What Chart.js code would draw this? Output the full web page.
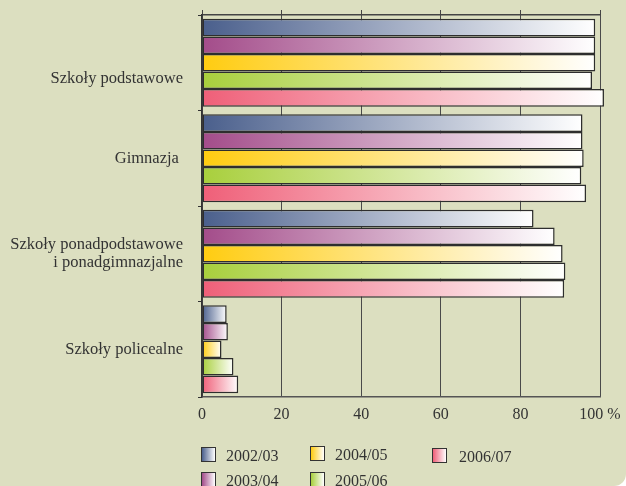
<!DOCTYPE html>
<html><head><meta charset="utf-8">
<script src="https://cdn.jsdelivr.net/npm/chart.js@4.4.1/dist/chart.umd.min.js"></script>
<style>
html,body{margin:0;padding:0;background:#fff;}
#wrap{position:relative;width:626px;height:486px;background:#dcdfc0;border-bottom-right-radius:12px;overflow:hidden;}
canvas{position:absolute;left:0;top:0;}
.lg{position:absolute;font-family:'Liberation Serif',serif;font-size:16px;color:#333;white-space:nowrap;line-height:16px;}
.sw{position:absolute;width:13px;height:13px;border:1px solid #333;}
</style></head>
<body><div id="wrap"><canvas id="c" width="626" height="486"></canvas><div id="legend"></div></div>
<script>
const categories = ['Szkoły podstawowe', 'Gimnazja ', ['Szkoły ponadpodstawowe', 'i ponadgimnazjalne'], 'Szkoły policealne'];
const seriesNames = ['2002/03', '2003/04', '2004/05', '2005/06', '2006/07'];
const s200203 = [98.8, 95.6, 83.3, 6.2];
const s200304 = [98.8, 95.6, 88.6, 6.5];
const s200405 = [98.8, 95.9, 90.6, 4.9];
const s200506 = [98.0, 95.3, 91.3, 7.9];
const s200607 = [101.0, 96.5, 91.0, 9.1];
const seriesColors = ['#4a5f8c', '#a34c8a', '#ffcc10', '#a8cf3c', '#ef5f78'];
const xTickLabels = ['0', '20', '40', '60', '80', '100 %'];

const seriesValues = [s200203, s200304, s200405, s200506, s200607];
const FONT = 'Liberation Serif';

function gradFill(color) {
  return (ctx) => {
    const chart = ctx.chart;
    if (!chart.chartArea || ctx.type !== 'data' || !ctx.parsed) return color;
    const xs = chart.scales.x;
    const x0 = xs.getPixelForValue(0);
    const x1 = xs.getPixelForValue(ctx.parsed.x);
    const g = chart.ctx.createLinearGradient(x0, 0, Math.max(x1, x0 + 1), 0);
    g.addColorStop(0, color);
    g.addColorStop(1, '#ffffff');
    return g;
  };
}

const datasets = seriesNames.map((name, i) => ({
  label: name,
  data: seriesValues[i],
  backgroundColor: gradFill(seriesColors[i]),
  borderColor: '#2e2e2e',
  borderWidth: 1.5,
  borderSkipped: false,
  categoryPercentage: 0.92,
  barPercentage: 1.0,
  clip: false
}));

new Chart(document.getElementById('c'), {
  type: 'bar',
  data: { labels: categories, datasets },
  options: {
    responsive: false,
    animation: false,
    indexAxis: 'y',
    layout: { padding: { top: 10, right: 26, left: 0, bottom: 0 } },
    plugins: { legend: { display: false }, tooltip: { enabled: false } },
    scales: {
      x: {
        type: 'linear', position: 'bottom', min: 0, max: 100,
        ticks: { stepSize: 20, color: '#333', padding: 8, font: { family: FONT, size: 16 },
          callback: (v, i) => xTickLabels[i] },
        grid: { color: '#4a4a4a', lineWidth: 1, drawTicks: false },
        border: { color: '#555', width: 1.5 },
        afterFit: (s) => { s.height = 89; s.paddingLeft = 0; s.paddingRight = 0; }
      },
      x2: {
        type: 'linear', position: 'top', min: 0, max: 100,
        ticks: { display: false, stepSize: 20 },
        grid: { drawOnChartArea: false, tickLength: 5, color: '#444', tickColor: '#444' },
        border: { color: '#444', width: 1.5 },
        afterFit: (s) => { s.paddingLeft = 0; s.paddingRight = 0; }
      },
      y: {
        ticks: {
          color: '#333', padding: 15,
          font: (c) => ({ family: FONT, size: 16.5, lineHeight: c.index === 0 ? 1.9 : 1.12 }),
          callback: (v, i) => i === 0 ? ['', categories[i]] : categories[i]
        },
        grid: { drawOnChartArea: false, tickLength: 4, color: '#333', tickColor: '#333', offset: true },
        border: { color: '#333', width: 1.5 },
        afterFit: (s) => { s.width = 202; s.paddingTop = 0; s.paddingBottom = 0; }
      }
    }
  }
});

// legend (column-major, as in the reference)
const legendPos = [[201, 447], [201, 472], [310, 446], [310, 472], [432, 448]];
const lg = document.getElementById('legend');
seriesNames.forEach((name, i) => {
  const [x, y] = legendPos[i];
  const sw = document.createElement('div');
  sw.className = 'sw';
  sw.style.left = x + 'px'; sw.style.top = y + 'px';
  sw.style.background = 'linear-gradient(to right,' + seriesColors[i] + ',#ffffff)';
  lg.appendChild(sw);
  const t = document.createElement('div');
  t.className = 'lg';
  t.style.left = (x + 25 + (i === 4 ? 2 : 0)) + 'px'; t.style.top = (y + 1) + 'px';
  t.textContent = name;
  lg.appendChild(t);
});
</script>
</body></html>
